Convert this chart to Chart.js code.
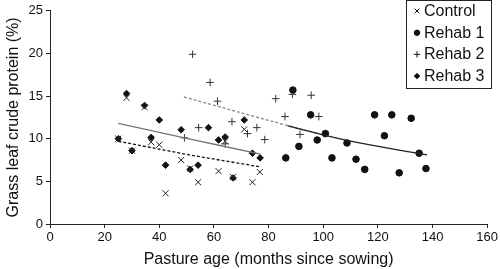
<!DOCTYPE html>
<html>
<head>
<meta charset="utf-8">
<script src="https://cdn.jsdelivr.net/npm/chart.js@4"></script>
<style>
  html, body { margin: 0; padding: 0; background: #fff; }
  #wrap { width: 500px; height: 269px; }
</style>
</head>
<body>
<div id="wrap"><canvas id="proteinChart" width="500" height="269"></canvas></div>
<script>
// =========================
// DATA
// =========================

const seriesNames = ["Control", "Rehab 1", "Rehab 2", "Rehab 3"];

const controlAge = [25, 28, 30, 34.6, 37, 40, 42.3, 48, 51.3, 54.2, 61.7, 64.1, 67, 71.1, 74.1, 76.8];
const controlCP = [10.0, 14.8, 8.6, 13.7, 9.6, 9.3, 3.6, 7.5, 6.5, 4.9, 6.2, 9.7, 5.5, 11.1, 4.9, 6.1];

const rehab1Age = [86.3, 88.9, 91.1, 95.4, 97.8, 100.8, 103.2, 108.7, 112, 115.2, 118.8, 122.4, 125.1, 127.8, 132.2, 135.1, 137.6];
const rehab1CP = [7.75, 15.7, 9.1, 12.8, 9.85, 10.6, 7.75, 9.5, 7.6, 6.4, 12.8, 10.35, 12.8, 6.0, 12.4, 8.3, 6.5];

const rehab2Age = [49.2, 52.2, 54.4, 58.6, 61.3, 64.1, 66.6, 72.3, 75.7, 78.6, 82.6, 86, 88.7, 91.5, 95.6, 98.4];
const rehab2CP = [10.1, 19.9, 11.3, 16.6, 14.4, 9.4, 12.0, 10.6, 11.3, 9.9, 14.7, 12.6, 15.2, 10.5, 15.1, 12.6];

const rehab3Age = [25, 28, 30, 34.6, 37, 40, 42.3, 48, 51.3, 54.2, 58, 61.7, 64.1, 67, 71.1, 74.1, 76.9];
const rehab3CP = [10.0, 15.3, 8.6, 13.9, 10.15, 12.2, 6.9, 11.05, 6.4, 6.9, 11.3, 9.85, 10.2, 5.4, 12.2, 8.3, 7.75];

// fitted trend lines, as drawn in the figure
const controlTrendAge = [25, 51, 77];
const controlTrendCP = [9.7, 8.1, 6.7];
const rehab1TrendAge = [87, 108.7, 138];
const rehab1TrendCP = [11.5, 9.8, 8.1];
const rehab2TrendAge = [49, 86.3, 98.4];
const rehab2TrendCP = [14.9, 11.6, 10.6];
const rehab3TrendAge = [25, 49.2, 77];
const rehab3TrendCP = [11.8, 10.1, 8.2];

function toPoints(xs, ys) {
  return xs.map((x, i) => ({ x: x, y: ys[i] }));
}

// =========================
// LEGEND BOX (inside plot, top right)
// =========================

const legendSymbols = [
  { style: "crossRot", radius: 3.4, fill: false },
  { style: "circle", radius: 2.7, fill: true },
  { style: "cross", radius: 3.2, fill: false },
  { style: "rectRot", radius: 2.7, fill: true },
];

const boxLegend = {
  id: "boxLegend",
  afterDraw(chart) {
    const ctx = chart.ctx;
    ctx.save();
    ctx.strokeStyle = "#222";
    ctx.lineWidth = 1;
    ctx.strokeRect(406.5, 0.5, 85, 88);

    ctx.font = "16px 'Liberation Sans', Arial, sans-serif";
    ctx.textBaseline = "middle";

    seriesNames.forEach((name, i) => {
      const y = 11 + i * 21.7;
      const s = legendSymbols[i];
      ctx.fillStyle = "#111";
      ctx.strokeStyle = "#111";
      Chart.helpers.drawPoint(ctx, { pointStyle: s.style, radius: s.radius, borderWidth: 1 }, 417, y);
      if (s.fill) ctx.fill();
      ctx.fillText(name, 424, y + 0.5);
    });
    ctx.restore();
  },
};

// =========================
// CHART
// =========================

const ctx = document.getElementById("proteinChart");

const tickFont = { family: "'Liberation Sans', Arial, sans-serif", size: 13 };
const titleFont = { family: "'Liberation Sans', Arial, sans-serif", size: 16 };

new Chart(ctx, {
  type: "scatter",

  data: {
    datasets: [
      {
        label: "Control trend",
        data: toPoints(controlTrendAge, controlTrendCP),
        showLine: true,
        borderColor: "#111",
        borderWidth: 1.3,
        borderDash: [3, 2],
        pointRadius: 0,
      },
      {
        label: "Rehab 1 trend",
        data: toPoints(rehab1TrendAge, rehab1TrendCP),
        showLine: true,
        borderColor: "#222",
        borderWidth: 1.3,
        pointRadius: 0,
        tension: 0.4,
      },
      {
        label: "Rehab 2 trend",
        data: toPoints(rehab2TrendAge, rehab2TrendCP),
        showLine: true,
        borderColor: "#888",
        borderWidth: 1.3,
        borderDash: [3, 2],
        pointRadius: 0,
        tension: 0.4,
      },
      {
        label: "Rehab 3 trend",
        data: toPoints(rehab3TrendAge, rehab3TrendCP),
        showLine: true,
        borderColor: "#777",
        borderWidth: 1.3,
        pointRadius: 0,
        tension: 0.4,
      },
      {
        label: seriesNames[0],
        data: toPoints(controlAge, controlCP),
        pointStyle: "crossRot",
        pointRadius: 4.3,
        borderColor: "#222",
        borderWidth: 1,
      },
      {
        label: seriesNames[1],
        data: toPoints(rehab1Age, rehab1CP),
        pointStyle: "circle",
        pointRadius: 3.3,
        backgroundColor: "#111",
        borderColor: "#111",
        borderWidth: 1,
      },
      {
        label: seriesNames[2],
        data: toPoints(rehab2Age, rehab2CP),
        pointStyle: "cross",
        pointRadius: 3.8,
        borderColor: "#333",
        borderWidth: 1,
      },
      {
        label: seriesNames[3],
        data: toPoints(rehab3Age, rehab3CP),
        pointStyle: "rectRot",
        pointRadius: 3.3,
        backgroundColor: "#111",
        borderColor: "#111",
        borderWidth: 1,
      },
    ],
  },

  options: {
    responsive: false,
    animation: false,
    events: [],
    layout: { padding: { top: 9, right: 11, left: 0, bottom: 0 } },
    plugins: {
      legend: { display: false },
      tooltip: { enabled: false },
    },
    scales: {
      x: {
        type: "linear",
        min: 0,
        max: 160,
        ticks: { stepSize: 20, color: "#111", font: tickFont, padding: 2 },
        grid: { drawOnChartArea: false, drawTicks: true, tickLength: 4, color: "#222" },
        border: { color: "#222", width: 1 },
        title: {
          display: true,
          text: "Pasture age (months since sowing)",
          color: "#111",
          font: titleFont,
          padding: { top: 1, bottom: 0 },
        },
        afterFit(scale) {
          scale.height = 45;
        },
      },
      y: {
        min: 0,
        max: 25,
        ticks: { stepSize: 5, color: "#111", font: tickFont, padding: 3 },
        grid: { drawOnChartArea: false, drawTicks: true, tickLength: 4, color: "#222" },
        border: { color: "#222", width: 1 },
        title: {
          display: true,
          text: "Grass leaf crude protein (%)",
          color: "#111",
          font: titleFont,
          padding: { top: 4, bottom: 0 },
        },
        afterFit(scale) {
          scale.width = 50;
        },
      },
    },
  },

  plugins: [boxLegend],
});
</script>
</body>
</html>
